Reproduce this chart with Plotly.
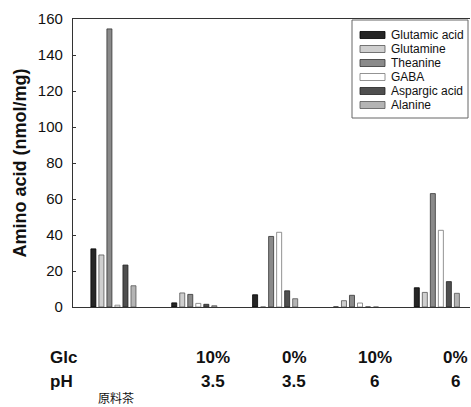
import plotly.graph_objects as go

# ---- data ----
groups = ["原料茶", "Glc10% pH3.5", "Glc0% pH3.5", "Glc10% pH6", "Glc0% pH6"]
glc_labels = ["", "10%", "0%", "10%", "0%"]
ph_labels = ["", "3.5", "3.5", "6", "6"]
raw_label = "原料茶"

series_names = ["Glutamic acid", "Glutamine", "Theanine", "GABA", "Aspargic acid", "Alanine"]
glutamic = [32.3, 2.3, 6.8, 0.0, 10.7]
glutamine = [28.9, 7.8, 0.0, 3.5, 8.1]
theanine = [154.5, 7.0, 39.2, 6.5, 63.0]
gaba = [1.0, 2.0, 41.5, 2.2, 42.6]
aspargic = [23.3, 1.5, 9.0, 0.0, 14.1]
alanine = [11.8, 0.7, 4.6, 0.0, 7.6]
values = [glutamic, glutamine, theanine, gaba, aspargic, alanine]

yticks = [0, 20, 40, 60, 80, 100, 120, 140, 160]

# ---- style ----
fills = ["#262626", "#cfcfcf", "#8a8a8a", "#ffffff", "#4f4f4f", "#b4b4b4"]
lines = ["#000000", "#555555", "#333333", "#777777", "#222222", "#555555"]
FONT = "Arial, Liberation Sans, sans-serif"

W, H = 471, 407
ML, MR, MT, MB = 73, 1, 19, 100
PW, PH = W - ML - MR, H - MT - MB

def px_x(p):
    return (p - ML) / PW

def px_y(p):
    return (H - MB - p) / PH

fig = go.Figure()
for name, vals, fc, lc in zip(series_names, values, fills, lines):
    fig.add_trace(go.Bar(
        x=groups, y=vals, name=name,
        marker=dict(color=fc, line=dict(color=lc, width=0.8)),
        showlegend=False,
    ))

# manual compact legend (box + swatches + names)
shapes = [dict(type="rect", xref="paper", yref="paper",
               x0=px_x(352), x1=px_x(468), y0=px_y(118), y1=px_y(20),
               line=dict(color="#666666", width=1), fillcolor="white", layer="above")]
annotations = []
for i, (name, fc, lc) in enumerate(zip(series_names, fills, lines)):
    cy = 35 + i * 14
    shapes.append(dict(type="rect", xref="paper", yref="paper",
                       x0=px_x(360), x1=px_x(385), y0=px_y(cy + 3.5), y1=px_y(cy - 3.5),
                       fillcolor=fc, line=dict(color=lc, width=0.8), layer="above"))
    annotations.append(dict(xref="paper", yref="paper", x=px_x(389), y=px_y(cy),
                            text=name, showarrow=False, xanchor="left", yanchor="middle",
                            font=dict(family=FONT, size=12, color="#111")))

# bottom condition labels
ROW_GLC, ROW_PH, ROW_RAW = 357, 381, 397
annotations.append(dict(xref="paper", yref="paper", x=px_x(48), y=px_y(ROW_GLC), text="<b>Glc</b>",
                        showarrow=False, xanchor="left", yanchor="middle",
                        font=dict(family=FONT, size=17, color="#111")))
annotations.append(dict(xref="paper", yref="paper", x=px_x(48), y=px_y(ROW_PH), text="<b>pH</b>",
                        showarrow=False, xanchor="left", yanchor="middle",
                        font=dict(family=FONT, size=17, color="#111")))
for g, gl, pl in zip(groups, glc_labels, ph_labels):
    if gl:
        annotations.append(dict(xref="x", yref="paper", x=g, y=px_y(ROW_GLC), xshift=19,
                                text=f"<b>{gl}</b>", showarrow=False, yanchor="middle",
                                font=dict(family=FONT, size=17, color="#111")))
    if pl:
        annotations.append(dict(xref="x", yref="paper", x=g, y=px_y(ROW_PH), xshift=19,
                                text=f"<b>{pl}</b>", showarrow=False, yanchor="middle",
                                font=dict(family=FONT, size=17, color="#111")))
annotations.append(dict(xref="x", yref="paper", x=groups[0], y=px_y(ROW_RAW), xshift=3,
                        text=raw_label, showarrow=False, yanchor="middle",
                        font=dict(family="Noto Sans CJK JP, sans-serif", size=12, color="#111")))

fig.update_layout(
    width=W, height=H,
    margin=dict(l=ML, r=MR, t=MT, b=MB, pad=0),
    paper_bgcolor="white", plot_bgcolor="white",
    barmode="group", bargap=0.405, bargroupgap=0.375,
    shapes=shapes, annotations=annotations,
    showlegend=False,
    xaxis=dict(type="category", range=[-0.5, 4.41], showticklabels=False, ticks="",
               showline=True, linecolor="#333", linewidth=1.2, mirror=True,
               showgrid=False, zeroline=False),
    yaxis=dict(range=[0, 160], tickvals=yticks, ticks="inside", ticklen=3,
               tickcolor="#333", showline=True, linecolor="#333", linewidth=1.2,
               showgrid=False, zeroline=False, ticklabelstandoff=6,
               tickfont=dict(family=FONT, size=15, color="#111"),
               title=dict(text="<b>Amino acid (nmol/mg)</b>", standoff=6,
                          font=dict(family=FONT, size=18, color="#111"))),
)
fig.update_yaxes(tickprefix="<b>", ticksuffix="</b>")

fig.write_html("out.html", config={"displayModeBar": False},
               post_script="document.body.style.margin='0';document.body.style.overflow='hidden';")
